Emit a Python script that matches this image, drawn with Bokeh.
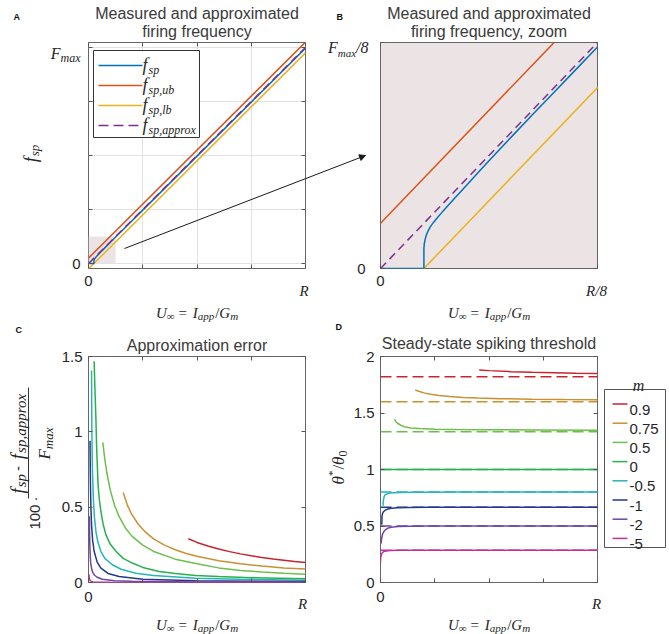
from math import pi
from bokeh.plotting import figure
from bokeh.layouts import row, column
from bokeh.models import (Range1d, FixedTicker, LinearAxis, Label, Arrow, NormalHead,
                          BoxAnnotation)
from bokeh.embed import file_html
from bokeh.resources import INLINE

# ---------------- data (units: R = 1, F_max = 1) ----------------
# Panels A and B
fsp_u = [0.0, 0.025, 0.025, 0.02525, 0.02575, 0.0265, 0.0275, 0.02875, 0.03063, 0.0325,
         0.035, 0.0375, 0.04375, 0.05, 0.05625, 0.0625, 0.075, 0.0875, 0.1, 0.1125, 0.125,
         0.25, 0.5, 0.75, 1.0]
fsp_f = [0.0, 0.0, 0.01125, 0.01375, 0.01625, 0.01875, 0.021, 0.02313, 0.02563, 0.02775,
         0.03063, 0.03338, 0.04, 0.0465, 0.05313, 0.05963, 0.07238, 0.085, 0.0975, 0.11, 0.1225,
         0.247, 0.497, 0.747, 0.997]
fub_u = [0.0, 1.0]
fub_f = [0.025, 1.025]
flb_u = [0.0, 1.0]
flb_f = [-0.025, 0.975]
fap_u = [0.0, 1.0]
fap_f = [0.0, 1.0]
zoom_left, zoom_right, zoom_bottom, zoom_top = 0.0, 0.125, 0.0, 0.125

# Panels C and D, one series per m
m_labels = ["0.9", "0.75", "0.5", "0", "-0.5", "-1", "-2", "-5"]
m_colors = ["#c6252e", "#c99133", "#6dbf4b", "#26b14c", "#24b6b8", "#22398f", "#6b45a8", "#c4309a"]

err_u_09 = [0.46, 0.5, 0.55, 0.6, 0.65, 0.7, 0.75, 0.8, 0.85, 0.9, 0.95, 1.0]
err_e_09 = [0.29, 0.266, 0.242, 0.222, 0.205, 0.19, 0.177, 0.166, 0.156, 0.148, 0.14, 0.133]
err_u_075 = [0.16, 0.18, 0.2, 0.23, 0.26, 0.3, 0.35, 0.4, 0.45, 0.5, 0.6, 0.7, 0.8, 0.9, 1.0]
err_e_075 = [0.597, 0.51, 0.45, 0.385, 0.338, 0.29, 0.248, 0.217, 0.193, 0.174, 0.145, 0.124,
             0.109, 0.097, 0.089]
err_u_05 = [0.066, 0.075, 0.085, 0.1, 0.12, 0.14, 0.17, 0.2, 0.25, 0.3, 0.4, 0.5, 0.6, 0.7,
            0.8, 0.9, 1.0]
err_e_05 = [0.93, 0.82, 0.725, 0.615, 0.513, 0.44, 0.362, 0.308, 0.248, 0.206, 0.155, 0.124,
            0.097, 0.08, 0.07, 0.062, 0.055]
err_u_0 = [0.026, 0.029, 0.034, 0.038, 0.044, 0.05, 0.057, 0.067, 0.08, 0.1, 0.126, 0.16,
           0.202, 0.25, 0.325, 0.4, 0.494, 0.6, 0.75, 1.0]
err_e_0 = [1.469, 1.318, 1.095, 0.873, 0.651, 0.55, 0.473, 0.39, 0.318, 0.255, 0.207, 0.16,
           0.129, 0.1, 0.073, 0.06, 0.047, 0.04, 0.032, 0.025]
err_u_m05 = [0.014, 0.015, 0.016, 0.018, 0.02, 0.023, 0.027, 0.034, 0.043, 0.057, 0.075, 0.11,
             0.15, 0.218, 0.3, 0.494, 0.7, 1.0]
err_e_m05 = [1.407, 1.095, 0.95, 0.762, 0.66, 0.54, 0.44, 0.34, 0.27, 0.207, 0.16, 0.118,
             0.088, 0.062, 0.046, 0.029, 0.021, 0.015]
err_u_m1 = [0.007, 0.008, 0.009, 0.011, 0.014, 0.019, 0.026, 0.04, 0.057, 0.09, 0.141, 0.25,
            0.494, 1.0]
err_e_m1 = [0.94, 0.78, 0.651, 0.5, 0.385, 0.28, 0.207, 0.135, 0.095, 0.06, 0.04, 0.022,
            0.011, 0.006]
err_u_m2 = [0.004, 0.005, 0.006, 0.008, 0.01, 0.014, 0.018, 0.028, 0.04, 0.064, 0.12, 0.2,
            0.5, 1.0]
err_e_m2 = [0.44, 0.33, 0.25, 0.18, 0.13, 0.095, 0.073, 0.048, 0.035, 0.022, 0.012, 0.008,
            0.004, 0.002]
err_u_m5 = [0.002, 0.004, 0.008, 0.02, 0.1, 1.0]
err_e_m5 = [0.055, 0.025, 0.011, 0.004, 0.001, 0.0]

thr_u_09 = [0.455, 0.5, 0.6, 0.7, 0.8, 0.9, 1.0]
thr_t_09 = [1.88, 1.875, 1.866, 1.86, 1.856, 1.852, 1.849]
thr_u_075 = [0.16, 0.18, 0.2, 0.23, 0.27, 0.32, 0.38, 0.45, 0.55, 0.7, 0.85, 1.0]
thr_t_075 = [1.703, 1.69, 1.678, 1.666, 1.655, 1.646, 1.638, 1.632, 1.627, 1.622, 1.619, 1.617]
thr_u_05 = [0.065, 0.07, 0.08, 0.095, 0.11, 0.14, 0.18, 0.25, 0.35, 0.5, 0.7, 1.0]
thr_t_05 = [1.446, 1.425, 1.407, 1.39, 1.378, 1.368, 1.362, 1.357, 1.354, 1.352, 1.35, 1.348]
thr_u_0 = [0.0, 1.0]
thr_t_0 = [1.0, 1.0]
thr_u_m05 = [0.012, 0.0125, 0.014, 0.017, 0.021, 0.03, 0.042, 0.06, 0.095, 0.15, 0.22, 0.35,
             0.5, 0.75, 1.0]
thr_t_m05 = [0.679, 0.71, 0.738, 0.76, 0.776, 0.785, 0.791, 0.794, 0.796, 0.798, 0.799, 0.8,
             0.8, 0.8, 0.8]
thr_u_m1 = [0.006, 0.0065, 0.007, 0.009, 0.011, 0.015, 0.022, 0.034, 0.05, 0.08, 0.13, 0.22,
            0.5, 1.0]
thr_t_m1 = [0.511, 0.555, 0.59, 0.607, 0.618, 0.628, 0.64, 0.65, 0.656, 0.661, 0.664, 0.666,
            0.667, 0.667]
thr_u_m2 = [0.003, 0.004, 0.006, 0.009, 0.015, 0.022, 0.034, 0.05, 0.08, 0.13, 0.22, 0.5, 1.0]
thr_t_m2 = [0.345, 0.372, 0.398, 0.425, 0.449, 0.466, 0.481, 0.489, 0.495, 0.498, 0.5, 0.5,
            0.5]
thr_u_m5 = [0.0, 0.0005, 0.001, 0.003, 0.006, 0.009, 0.015, 0.026, 0.045, 0.08, 0.15, 0.3, 1.0]
thr_t_m5 = [0.177, 0.198, 0.221, 0.24, 0.256, 0.265, 0.273, 0.279, 0.283, 0.285, 0.286, 0.286,
            0.286]
thr_asym = [1.82, 1.6, 1.333, 1.0, 0.8, 0.667, 0.5, 0.286]

err_u = [err_u_09, err_u_075, err_u_05, err_u_0, err_u_m05, err_u_m1, err_u_m2, err_u_m5]
err_e = [err_e_09, err_e_075, err_e_05, err_e_0, err_e_m05, err_e_m1, err_e_m2, err_e_m5]
thr_u = [thr_u_09, thr_u_075, thr_u_05, thr_u_0, thr_u_m05, thr_u_m1, thr_u_m2, thr_u_m5]
thr_t = [thr_t_09, thr_t_075, thr_t_05, thr_t_0, thr_t_m05, thr_t_m1, thr_t_m2, thr_t_m5]

quarter_ticks = [0.0, 0.25, 0.5, 0.75, 1.0]

# ---------------- styling ----------------
TXT = "#262626"
TITLE = "#3a3a3a"
BOX = "#666666"
SHADE = "#ece4e4"
C_SP, C_UB, C_LB, C_AP = "#0072BD", "#D95319", "#EDB120", "#7E2F8E"
W, H = 669, 634

W_SERIF = dict(a=500, b=500, c=444, d=500, e=444, f=278, g=500, h=500, i=278, j=278, k=444,
               l=278, m=722, n=500, o=500, p=500, q=500, r=389, s=389, t=278, u=500, v=444,
               w=667, x=444, y=444, z=389, F=611, G=722, I=333, R=611, U=722)
W_SERIF.update({",": 250, "=": 675, "/": 278, "8": 500, "0": 500, "*": 500, "-": 333,
                "\u221e": 713, "\u03b8": 500, "1": 500})
W_SANS = {"0": 556, "1": 556, "5": 556, ".": 278, "\u00b7": 278, "-": 584}


def tw(s, fam, size):
    tab = W_SERIF if fam == "serif" else W_SANS
    return sum(tab.get(c, 500) for c in s) * size / 1000.0


# overlay figure: one transparent canvas over the whole page, in page pixels
ov = figure(width=W, height=H, x_range=Range1d(0, W), y_range=Range1d(H, 0),
            toolbar_location=None, output_backend="svg", x_axis_location=None,
            y_axis_location=None, min_border=0,
            styles={"position": "absolute", "left": "0px", "top": "0px", "z-index": "10",
                    "pointer-events": "none"})
ov.grid.visible = False
ov.outline_line_color = None
ov.background_fill_alpha = 0
ov.border_fill_alpha = 0


def put(px, py, text, size, font="Liberation Serif", style="italic", align="left",
        baseline="alphabetic", angle=0.0, color=TXT):
    ov.add_layout(Label(x=px, y=py, text=text, text_font=font, text_font_size=f"{size}px",
                        text_font_style=style, text_align=align, text_baseline=baseline,
                        angle=angle, text_color=color))


def rich(px, py, pieces, align="center", angle=0.0):
    widths = [tw(t, fam, s) + g for t, fam, s, st, sh, g in pieces]
    total = sum(widths)
    pos = {"left": 0.0, "center": -total / 2.0, "right": -total}[align]
    for (t, fam, size, style, shift, gap), w in zip(pieces, widths):
        font = "Liberation Serif" if fam == "serif" else "Liberation Sans"
        a = pos + gap
        if angle == 0:
            x, y = px + a, py + shift
        else:
            x, y = px + shift, py - a
        put(x, y, t, size, font, style, "left", "alphabetic", angle)
        pos += w


def seg(x0, y0, x1, y1, color="#1a1a1a", width=1.0, dash="solid", head=None):
    ov.add_layout(Arrow(end=head, x_start=x0, y_start=y0, x_end=x1, y_end=y1,
                        line_color=color, line_width=width, line_dash=dash))


def make(fw, fh, bl, br, bt, bb, xr, yr, bg="white"):
    p = figure(frame_width=fw, frame_height=fh, x_range=xr, y_range=yr,
               toolbar_location=None, output_backend="svg",
               min_border_left=bl, min_border_right=br, min_border_top=bt, min_border_bottom=bb)
    p.background_fill_color = bg
    p.border_fill_color = "white"
    p.outline_line_color = BOX
    p.outline_line_width = 1
    p.grid.visible = False
    return p


def axes(p, xt, yt, xl, yl, xs=7, ys=8, grid=False):
    p.xaxis.ticker = FixedTicker(ticks=xt)
    p.yaxis.ticker = FixedTicker(ticks=yt)
    p.xaxis.major_label_overrides = xl
    p.yaxis.major_label_overrides = yl
    p.xaxis.major_label_standoff = xs
    p.yaxis.major_label_standoff = ys
    for ax in p.axis:
        ax.axis_line_color = None
        ax.major_tick_line_color = "#555555"
        ax.major_tick_in = 4
        ax.major_tick_out = 0
        ax.minor_tick_line_color = None
        ax.major_label_text_font = "Liberation Sans"
        ax.major_label_text_font_size = "15px"
        ax.major_label_text_color = TXT
    for side, t in (("above", xt), ("right", yt)):
        p.add_layout(LinearAxis(ticker=FixedTicker(ticks=t),
                                major_label_overrides={v: "" for v in t},
                                major_label_text_font_size="1px", major_label_standoff=0,
                                axis_line_color=None, major_tick_in=4, major_tick_out=0,
                                minor_tick_line_color=None, major_tick_line_color="#555555"), side)
    if grid:
        p.xgrid.visible = True
        p.ygrid.visible = True
        p.xgrid.ticker = FixedTicker(ticks=xt)
        p.ygrid.ticker = FixedTicker(ticks=yt)
        p.grid.grid_line_color = "#e2e2e2"
        p.grid.grid_line_width = 1


def xlabel(cx, by):
    rich(cx, by, [("U", "serif", 15, "italic", 0, 0),
                  ("\u221e", "serif", 11, "normal", 3.5, 0),
                  ("=", "serif", 15, "normal", 0, 4),
                  ("I", "serif", 15, "italic", 0, 4),
                  ("app", "serif", 11, "italic", 3.5, 0),
                  ("/", "serif", 15, "normal", 0, 1),
                  ("G", "serif", 15, "italic", 0, 0),
                  ("m", "serif", 11, "italic", 3.5, 0)])


# ---------------- Panel A ----------------
yA0, yA1 = -0.0231, 1.0231
pA = make(217, 226, 88, 30, 42, 50, Range1d(0, 1), Range1d(yA0, yA1))
axes(pA, quarter_ticks, quarter_ticks, {0: "0", 0.25: "", 0.5: "", 0.75: "", 1: ""},
     {0: "0", 0.25: "", 0.5: "", 0.75: "", 1: ""}, grid=True)
pA.quad(left=[zoom_left], right=[zoom_right], bottom=[zoom_bottom], top=[zoom_top],
        fill_color=SHADE, line_color=None, level="underlay")
pA.line(fub_u, fub_f, color=C_UB, line_width=1.5)
pA.line(flb_u, flb_f, color=C_LB, line_width=1.5)
pA.line(fsp_u, fsp_f, color=C_SP, line_width=1.5)
pA.line(fap_u, fap_f, color=C_AP, line_width=1.5, line_dash="8 5")

# hand-made legend of A (labels with subscripts), in page pixels on the overlay
ov.add_layout(BoxAnnotation(left=93, right=199, top=50, bottom=137, fill_color="white",
                            fill_alpha=1.0, line_color="#333333", line_width=1, line_alpha=1.0))
for i, (col, sub, dash) in enumerate([(C_SP, "sp", "solid"), (C_UB, "sp,ub", "solid"),
                                       (C_LB, "sp,lb", "solid"), (C_AP, "sp,approx", "10 5")]):
    yy = 65 + 20 * i
    seg(98, yy, 142, yy, color=col, width=1.5, dash=dash)
    put(142, yy - 1, "f", 18)
    put(148, yy + 4, sub, 12)

put(196.5, 13, "Measured and approximated", 16, "Liberation Sans", "normal", "center", color=TITLE)
put(196.5, 31, "firing frequency", 16, "Liberation Sans", "normal", "center", color=TITLE)
put(13, 16, "A", 9, "Liberation Sans", "bold", color="#111111")
rich(80, 53, [("F", "serif", 16, "italic", 0, 0), ("max", "serif", 12, "italic", 4.5, 0)], align="right")
put(303.5, 290, "R", 15, align="center")
rich(30, 153, [("f", "serif", 18, "italic", 0, 0), ("sp", "serif", 13, "italic", 4, 1)], angle=pi / 2)
xlabel(196.5, 312)

# arrow from the shaded box in A to panel B
seg(124, 248, 365, 155, width=1,
    head=NormalHead(size=6, fill_color="#1a1a1a", line_color="#1a1a1a", line_width=1))

# ---------------- Panel B ----------------
pB = make(217, 226, 45, 72, 42, 50, Range1d(0, 0.125), Range1d(0, 0.125), bg=SHADE)
axes(pB, [0, 0.125], [0, 0.125], {0: "0", 0.125: ""}, {0: "0", 0.125: ""}, ys=15)
pB.line(fub_u, fub_f, color=C_UB, line_width=1.5)
pB.line(flb_u, flb_f, color=C_LB, line_width=1.5)
pB.line(fsp_u, fsp_f, color=C_SP, line_width=1.5)
pB.line(fap_u, fap_f, color=C_AP, line_width=1.5, line_dash="8 5")
put(488.5, 13, "Measured and approximated", 16, "Liberation Sans", "normal", "center", color=TITLE)
put(488.5, 31, "firing frequency, zoom", 16, "Liberation Sans", "normal", "center", color=TITLE)
put(336, 16, "B", 9, "Liberation Sans", "bold", color="#111111")
rich(368, 47, [("F", "serif", 16, "italic", 0, 0), ("max", "serif", 11, "italic", 5, 0),
               ("/8", "serif", 16, "italic", 0, 0)], align="right")
put(596, 290, "R/8", 15, align="center")
xlabel(488.5, 312)

# ---------------- Panel C ----------------
pC = make(217, 226, 88, 30, 38, 52, Range1d(0, 1), Range1d(0, 1.5))
axes(pC, quarter_ticks, [0, 0.5, 1, 1.5], {0: "0", 0.25: "", 0.5: "", 0.75: "", 1: ""},
     {0: "0", 0.5: "0.5", 1: "1", 1.5: "1.5"}, xs=9, ys=6)
for u, e, c in zip(err_u, err_e, m_colors):
    pC.line(u, e, color=c, line_width=1.5)
put(196.5, 345, "Approximation error", 16, "Liberation Sans", "normal", "center", color=TITLE)
put(15, 329.5, "C", 9, "Liberation Sans", "bold", color="#111111")
put(302, 603, "R", 15, align="center")
xlabel(196.5, 624)
# y label: 100 . (f_sp - f_sp,approx) / F_max
rich(34, 513, [("100", "sans", 15, "normal", 0, 0), ("\u00b7", "sans", 15, "normal", 0, 3)],
     angle=pi / 2)
rich(17, 443, [("f", "serif", 19, "italic", 0, 0), ("sp", "serif", 15, "italic", 3.5, 1),
               ("-", "sans", 15, "normal", 0, 3), ("f", "serif", 19, "italic", 0, 3),
               ("sp,approx", "serif", 15, "italic", 3.5, 1)], angle=pi / 2)
seg(28, 387, 28, 498, color="#333333", width=1)
rich(44, 443, [("F", "serif", 17, "italic", 0, 0), ("max", "serif", 13, "italic", 4, 0)],
     angle=pi / 2)

# ---------------- Panel D ----------------
pD = make(217, 226, 45, 72, 38, 52, Range1d(0, 1), Range1d(0, 2))
axes(pD, quarter_ticks, [0, 0.5, 1, 1.5, 2], {0: "0", 0.25: "", 0.5: "", 0.75: "", 1: ""},
     {0: "0", 0.5: "0.5", 1: "1", 1.5: "1.5", 2: "2"}, xs=9, ys=6)
for u, t, c in zip(thr_u, thr_t, m_colors):
    pD.line(u, t, color=c, line_width=1.5)
for lev, c in zip(thr_asym, m_colors):
    pD.line([0, 1], [lev, lev], color=c, line_width=1.5, line_dash="11 5")

# legend of D (outside the axes, on the overlay)
ov.add_layout(BoxAnnotation(left=604, right=665, top=389, bottom=547, fill_color="white",
                            fill_alpha=1.0, line_color="#555555", line_width=1, line_alpha=1.0))
for i, (lab, c) in enumerate(zip(m_labels, m_colors)):
    yy = 403.5 + 19.2 * i
    seg(612, yy, 627, yy, color=c, width=1.5)
    put(629, yy + 5.5, lab, 15, "Liberation Sans", "normal")
put(638, 385, "m", 16, align="center")

put(488.5, 343, "Steady-state spiking threshold", 16, "Liberation Sans", "normal", "center",
    color=TITLE)
put(335, 326.5, "D", 9, "Liberation Sans", "bold", color="#111111")
put(596, 603, "R", 15, align="center")
xlabel(488.5, 624)
rich(338, 467, [("\u03b8", "serif", 17, "italic", 0, 0), ("*", "serif", 11, "normal", -7, 0),
                ("/", "serif", 17, "normal", 0, 1), ("\u03b8", "serif", 17, "italic", 0, 0),
                ("0", "serif", 12, "normal", 4, 0)], angle=pi / 2)

layout = column(ov, row(pA, pB), row(pC, pD))
open("out.html", "w").write(file_html(layout, INLINE))
